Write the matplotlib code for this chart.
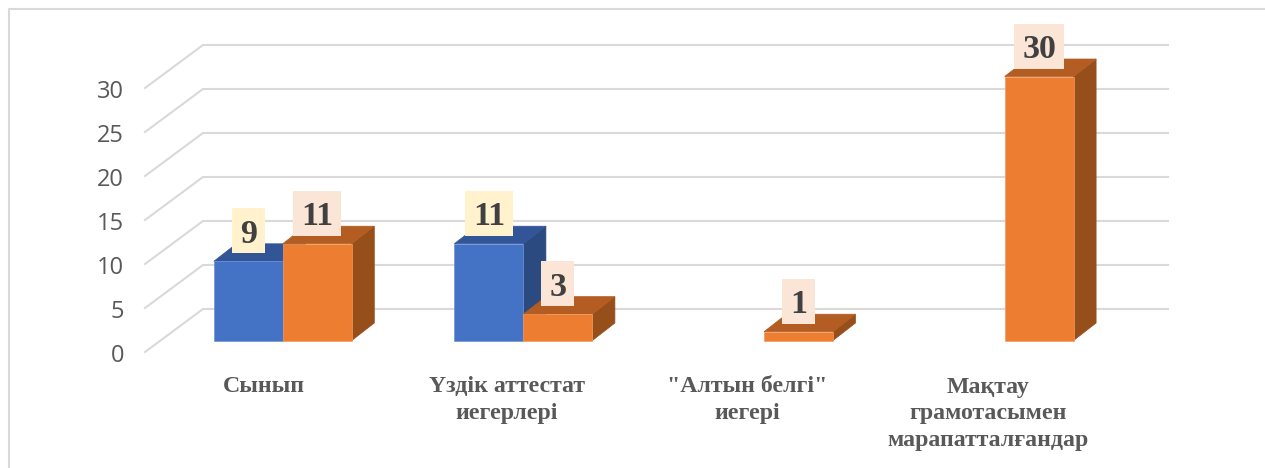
import matplotlib
matplotlib.use("Agg")
import matplotlib.pyplot as plt
from matplotlib.lines import Line2D
from matplotlib.path import Path
from matplotlib.patches import Polygon
from matplotlib.transforms import ScaledTranslation

categories = ['Сынып', 'Үздік аттестат\nиегерлері', '"Алтын белгі"\nиегері',
              'Мақтау\nграмотасымен\nмарапатталғандар']
series_blue = [9, 11, None, None]
series_orange = [11, 3, 1, 30]
y_ticks = [0, 5, 10, 15, 20, 25, 30]

W, H, DPI = 1265, 468, 100
PX_V = 8.8          # pixels per value unit
PX_C = 240.6        # pixels per category
BASE = 340.5        # pixel row of value 0 at the bars' front
X0 = 282.8          # pixel column of the first category
AX_L, AX_R, AX_T, AX_B = 145, 1168, 45, 352
BAR_W = 69 / PX_C
D_X, D_Y = 22.5 / PX_C, 17.5 / PX_V
WALL_X, WALL_Y = 58 / PX_C, 43 / PX_V
FRONT_SHIFT = 11.5 / PX_V
GRID = '#D9D9D9'

fig = plt.figure(figsize=(W / DPI, H / DPI), dpi=DPI, facecolor='white')
ax = fig.add_axes([AX_L / W, 1 - AX_B / H, (AX_R - AX_L) / W, (AX_B - AX_T) / H])
ax.patch.set_visible(False)
for s in ax.spines.values():
    s.set_visible(False)
ax.set_xlim((AX_L - X0) / PX_C, (AX_R - X0) / PX_C)
ax.set_ylim((BASE - AX_B) / PX_V, (BASE - AX_T) / PX_V)

# frame
fig.add_artist(Line2D([9 / W, 9 / W, 1], [0, 1 - 9 / H, 1 - 9 / H],
                      transform=fig.transFigure, color=GRID, lw=1.5))

# floor-and-wall gridlines
left = ax.get_xlim()[0]
right = ax.get_xlim()[1]
for v in y_ticks:
    yf = v - FRONT_SHIFT
    yb = yf + WALL_Y
    ax.plot([left, left + WALL_X, right], [yf, yb, yb], color=GRID, lw=1.5,
            solid_joinstyle='miter', clip_on=False, zorder=1)

styles = {
    'blue': dict(front='#4472C4', top='#325597', side='#2A4A80', edge='#6E92D6', box='#FFF2CC'),
    'orange': dict(front='#ED7D31', top='#B35D23', side='#964E1B', edge='#F49A5E', box='#FBE5D6'),
}


def label_box(x0, y0, width, height, mutation_size):
    # fixed-height box, 8 px either side, with the digits sitting low in it
    cy = y0 + height / 2 + 3.5
    xa, xb = x0 - 8, x0 + width + 8
    ya, yb = cy - 22.5, cy + 22.5
    return Path([(xa, ya), (xb, ya), (xb, yb), (xa, yb), (xa, ya)], closed=True)


def draw_bar(xl, v, st, z):
    xr = xl + BAR_W
    ax.add_patch(Polygon([(xr, 0), (xr + D_X, D_Y), (xr + D_X, v + D_Y), (xr, v)],
                         facecolor=st['side'], edgecolor=st['side'], lw=0.5, zorder=z))
    ax.add_patch(Polygon([(xl, v), (xl + D_X, v + D_Y), (xr + D_X, v + D_Y), (xr, v)],
                         facecolor=st['top'], edgecolor=st['top'], lw=0.5, zorder=z))
    ax.bar(xl, v, width=BAR_W, align='edge', color=st['front'], edgecolor=st['edge'],
           lw=0.5, zorder=z + 0.1)


def label_bar(xl, v, st):
    ax.annotate(str(v), (xl + BAR_W / 2, v), xytext=(0, 27 * 72 / DPI),
                textcoords='offset points', ha='center', va='center',
                family='Liberation Serif', weight='bold', fontsize=24.5, color='#404040',
                zorder=10,
                bbox=dict(boxstyle=label_box, facecolor=st['box'], edgecolor='none'))


for i, v in enumerate(series_blue):
    if v is not None:
        draw_bar(i - BAR_W, v, styles['blue'], 3)
for i, v in enumerate(series_orange):
    draw_bar(i, v, styles['orange'], 4)
for i, v in enumerate(series_blue):
    if v is not None:
        label_bar(i - BAR_W, v, styles['blue'])
for i, v in enumerate(series_orange):
    label_bar(i, v, styles['orange'])

# axes labels
ax.set_yticks(y_ticks)
ax.set_yticklabels([str(t) for t in y_ticks], family='Open Sans', fontsize=17, color='#595959')
ax.tick_params(axis='y', length=0, pad=21 * 72 / DPI)
ax.set_xticks(range(len(categories)))
ax.set_xticklabels(categories, family='Liberation Serif', weight='bold', fontsize=17.2,
                   color='#595959', linespacing=1.37, ha='center')
ax.tick_params(axis='x', length=0, pad=24.5 * 72 / DPI)
for lab in ax.get_yticklabels():
    lab.set_transform(lab.get_transform() + ScaledTranslation(0, -12.5 / DPI, fig.dpi_scale_trans))
for lab, shift in zip(ax.get_xticklabels(), [-18.5, -16.5, -16.5, -16.5]):
    lab.set_transform(lab.get_transform() + ScaledTranslation(shift / DPI, 0, fig.dpi_scale_trans))

fig.savefig('out.png', dpi=DPI, facecolor='white')
